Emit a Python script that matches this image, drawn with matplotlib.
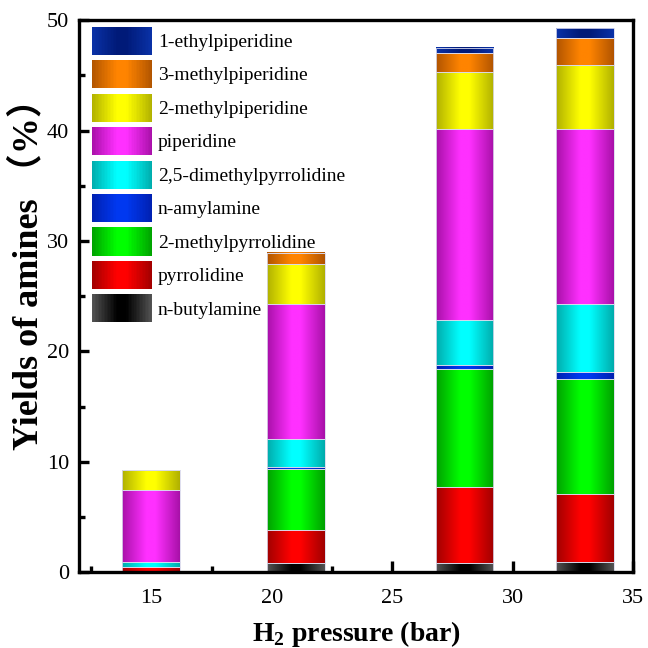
import numpy as np
import matplotlib
matplotlib.use("Agg")
import matplotlib.pyplot as plt
from matplotlib.colors import LinearSegmentedColormap
from matplotlib.legend_handler import HandlerBase
from matplotlib.patches import Patch, Rectangle
from matplotlib.ticker import MultipleLocator


plt.rcParams["font.family"] = ["Liberation Serif", "Noto Sans CJK SC", "DejaVu Sans"]
plt.rcParams["mathtext.fontset"] = "custom"
plt.rcParams["mathtext.rm"] = "Liberation Serif:bold"
plt.rcParams["mathtext.bf"] = "Liberation Serif:bold"

# bar positions (bar) and stacked yields (%), bottom to top
pressures = [15, 21, 28, 33]
amines = [
    "n-butylamine",
    "pyrrolidine",
    "2-methylpyrrolidine",
    "n-amylamine",
    "2,5-dimethylpyrrolidine",
    "piperidine",
    "2-methylpiperidine",
    "3-methylpiperidine",
    "1-ethylpiperidine",
]
n_butylamine = [0.0, 0.8, 0.85, 0.95]
pyrrolidine = [0.5, 3.0, 6.85, 6.1]
methylpyrrolidine_2 = [0.0, 5.5, 10.7, 10.45]
n_amylamine = [0.0, 0.2, 0.4, 0.65]
dimethylpyrrolidine_25 = [0.4, 2.55, 4.0, 6.15]
piperidine = [6.55, 12.2, 17.3, 15.85]
methylpiperidine_2 = [1.8, 3.7, 5.2, 5.8]
methylpiperidine_3 = [0.0, 1.0, 1.7, 2.4]
ethylpiperidine_1 = [0.0, 0.0, 0.5, 0.9]

series = [
    n_butylamine,
    pyrrolidine,
    methylpyrrolidine_2,
    n_amylamine,
    dimethylpyrrolidine_25,
    piperidine,
    methylpiperidine_2,
    methylpiperidine_3,
    ethylpiperidine_1,
]

# (edge colour, centre colour) for the shaded cylinders
shades = [
    ("#555555", "#000000"),
    ("#a00000", "#ff0000"),
    ("#00a000", "#00ff00"),
    ("#0020b0", "#0038f0"),
    ("#00abab", "#00ffff"),
    ("#a810a8", "#ff30ff"),
    ("#b0b000", "#ffff00"),
    ("#b05400", "#ff8400"),
    ("#0a32a8", "#001a78"),
]
cmaps = [
    LinearSegmentedColormap.from_list(name, [(0, e), (0.42, c), (0.58, c), (1, e)])
    for name, (e, c) in zip(amines, shades)
]


class GradientHandler(HandlerBase):
    def __init__(self, cmap, **kw):
        super().__init__(**kw)
        self.cmap = cmap

    def create_artists(self, legend, orig_handle, xdescent, ydescent,
                       width, height, fontsize, trans):
        n = 40
        step = width / n
        artists = []
        for i in range(n):
            r = Rectangle((-xdescent + i * step, -ydescent), step * 1.05, height,
                          facecolor=self.cmap((i + 0.5) / n), edgecolor="none",
                          transform=trans)
            artists.append(r)
        return artists


fig = plt.figure(figsize=(6.48, 6.48), dpi=100)
ax = fig.add_axes([0.122, 0.117, 0.855, 0.852])

bar_width = 2.4
bottom = np.zeros(len(pressures))
for values, cmap in zip(series, cmaps):
    bars = ax.bar(pressures, values, width=bar_width, bottom=bottom,
                  facecolor="none", edgecolor="#d9d9ec", linewidth=0.6, zorder=4)
    for rect in bars:
        h = rect.get_height()
        if h <= 0:
            continue
        x0, y0, w = rect.get_x(), rect.get_y(), rect.get_width()
        ax.imshow(np.linspace(0, 1, 256)[None, :], cmap=cmap, aspect="auto",
                  interpolation="bilinear", extent=(x0, x0 + w, y0, y0 + h),
                  zorder=3)
    bottom += np.array(values)

ax.set_xlim(12, 35)
ax.set_ylim(0, 50)
ax.xaxis.set_major_locator(MultipleLocator(5))
ax.xaxis.set_minor_locator(MultipleLocator(2.5))
ax.yaxis.set_major_locator(MultipleLocator(10))
ax.yaxis.set_minor_locator(MultipleLocator(5))
ax.tick_params(which="both", direction="in", width=2.4, labelsize=16,
               top=False, right=False)
ax.tick_params(axis="x", which="major", length=8, pad=12)
ax.tick_params(axis="y", which="major", length=7, pad=7)
ax.tick_params(which="minor", length=4)
for spine in ax.spines.values():
    spine.set_linewidth(2.4)
    spine.set_zorder(6)

ax.set_xlabel("H$_2$ pressure (bar)", fontsize=20, fontweight="bold", labelpad=8)
ax.set_ylabel("Yields of amines （%）", fontsize=26, fontweight="bold")
ax.yaxis.set_label_coords(-0.061, 0.555)

handles = [Patch(label=name) for name in amines]
handler_map = {h: GradientHandler(c) for h, c in zip(handles, cmaps)}
ax.legend(handles[::-1], amines[::-1], handler_map=handler_map,
          loc="upper left", bbox_to_anchor=(0.023, 0.988), frameon=False,
          fontsize=14, handlelength=3.1, handleheight=1.84, labelspacing=0.28,
          handletextpad=0.3, borderpad=0, borderaxespad=0)

fig.savefig("out.png", dpi=100)
